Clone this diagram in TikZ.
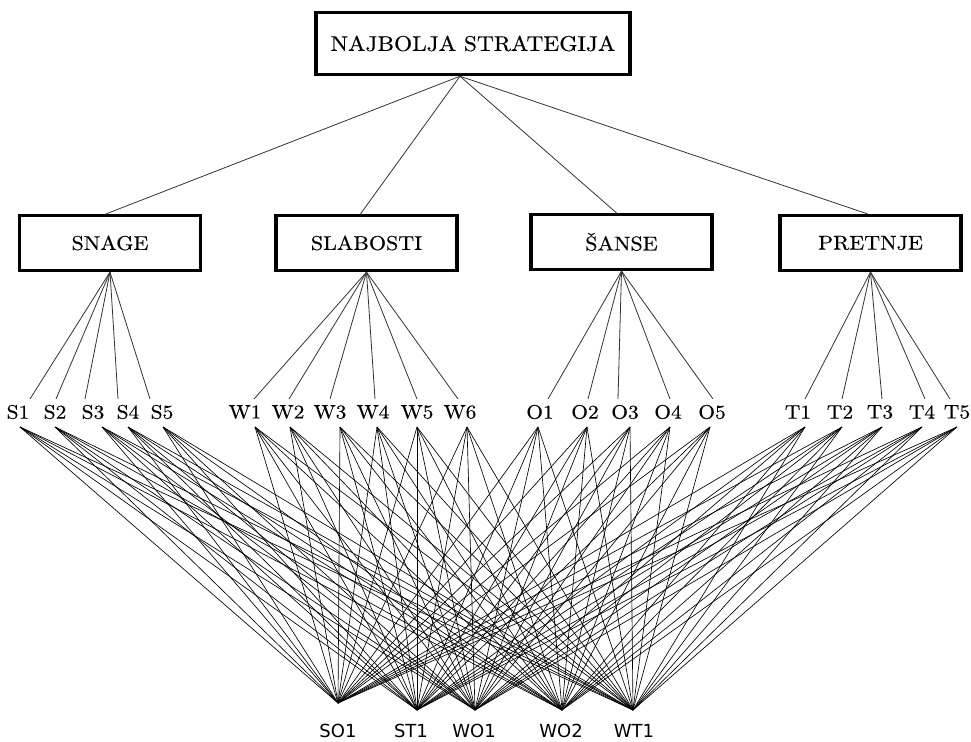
\documentclass[tikz,border=0pt]{standalone}
\usepackage{fontspec}
\newfontfamily\botfont{DejaVu Sans}
\newfontfamily\wideserif{lmroman10-regular.otf}[FakeStretch=1.1,FakeBold=0.4]
\begin{document}
\begin{tikzpicture}[x=1pt,y=-1pt,
  mainbox/.style={draw,line width=3.5pt,minimum width=314pt,minimum height=62pt,inner sep=0pt,font=\wideserif\fontsize{21.2}{24}\selectfont},
  catbox/.style={draw,line width=3.2pt,minimum width=181pt,minimum height=55pt,inner sep=0pt,font=\wideserif\fontsize{20}{22}\selectfont},
  leaf/.style={inner sep=0pt,font=\wideserif\fontsize{19.5}{20}\selectfont},
  botlabel/.style={inner sep=0pt,font=\botfont\fontsize{18}{20}\selectfont},
  link/.style={line width=0.8pt,black!80},
  fan/.style={line width=0.65pt,black}]
\useasboundingbox (0,0) rectangle (971,741);

\node[mainbox] (top) at (473,43.5) {NAJBOLJA STRATEGIJA};
\coordinate (topfan) at ([xshift=-13pt]top.south);

\node[catbox] (S) at (110,243) {SNAGE};
\node[catbox] (W) at (366.5,243) {SLABOSTI};
\node[catbox] (O) at (621.5,242) {ŠANSE};
\node[catbox] (T) at (870.5,243) {PRETNJE};

\foreach \g/\dx in {S/-4,W/-6,O/-5,T/-3}
  \draw[link] (topfan) -- ([xshift=\dx pt]\g.north);

\foreach \n/\g/\lx/\tx/\bx in {
  S1/S/18/30/20, S2/S/55/56/55, S3/S/93/85/102, S4/S/128/118/128, S5/S/162/150/163,
  W1/W/245/254/255, W2/W/288/289/290, W3/W/330/330/340, W4/W/373/375/377, W5/W/417/417/417, W6/W/460/458/467,
  O1/O/540/548/538, O2/O/585/588/587, O3/O/625/618/630, O4/O/668/670/670, O5/O/712/713/710,
  T1/T/798/805/805, T2/T/840/842/842, T3/T/880/882/882, T4/T/922/925/922, T5/T/957/950/957} {
  \node[leaf] (\n) at (\lx,412) {\n};
  \coordinate (\n-t) at (\tx,399);
  \coordinate (\n-b) at (\bx,427);
  \draw[link] (\g.south) -- (\n-t);
}

\foreach \b/\bx/\by/\lx in {SO1/338/703/338, ST1/417/710/411, WO1/475/710/474, WO2/562/710/561, WT1/633/710/634} {
  \coordinate (p\b) at (\bx,\by);
  \node[botlabel] (\b) at (\lx,731) {\b};
}

\foreach \n in {S1,S2,S3,S4,S5,W1,W2,W3,W4,W5,W6,O1,O2,O3,O4,O5,T1,T2,T3,T4,T5}
  \foreach \b in {SO1,ST1,WO1,WO2,WT1}
    \draw[fan] (\n-b) -- (p\b);
\end{tikzpicture}
\end{document}
